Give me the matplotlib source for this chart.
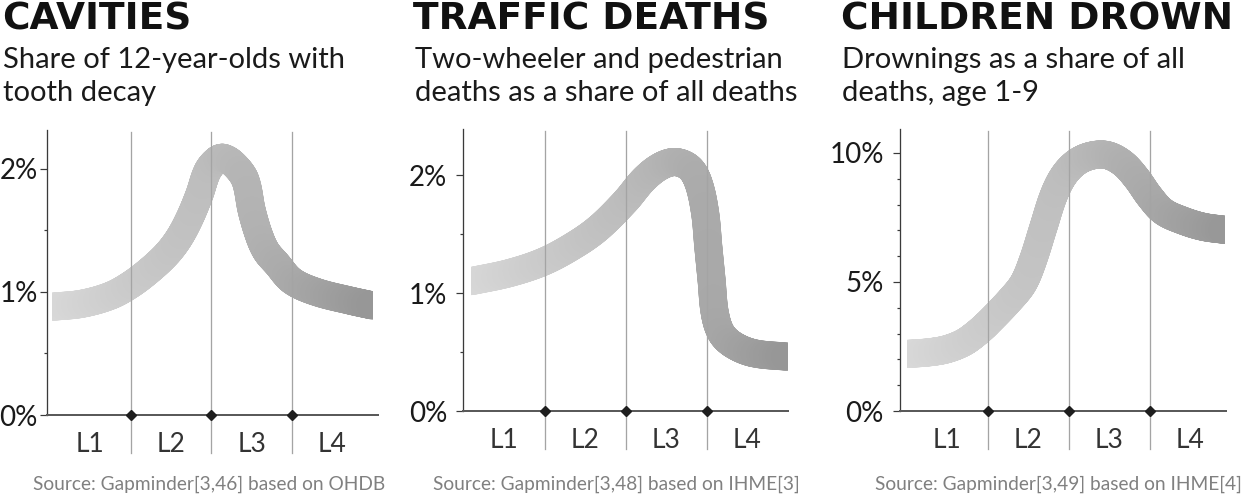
import matplotlib
matplotlib.use("Agg")
import matplotlib.pyplot as plt
import numpy as np
from matplotlib.collections import LineCollection
from matplotlib.patches import Rectangle
from matplotlib.colors import LinearSegmentedColormap
from matplotlib.bezier import BezierSegment

plt.rcParams['font.family'] = ['Lato', 'DejaVu Sans']

# ---------------- data ----------------
titles = ["CAVITIES", "TRAFFIC DEATHS", "CHILDREN DROWN"]
subtitles = [["Share of 12-year-olds with", "tooth decay"],
             ["Two-wheeler and pedestrian", "deaths as a share of all deaths"],
             ["Drownings as a share of all", "deaths, age 1-9"]]
sources = ["Source: Gapminder[3,46] based on OHDB",
           "Source: Gapminder[3,48] based on IHME[3]",
           "Source: Gapminder[3,49] based on IHME[4]"]
level_labels = ["L1", "L2", "L3", "L4"]
level_label_pos = [0.5, 1.5, 2.5, 3.5]
level_bounds = [1, 2, 3]

cavities_x = [0.03, 0.40, 0.75, 1.00, 1.24, 1.45, 1.60, 1.73, 1.85, 1.95, 2.06,
              2.15, 2.29, 2.42, 2.50, 2.59, 2.68, 2.81, 3.00, 3.30, 3.72, 4.00]
cavities_y = [0.88, 0.905, 0.97, 1.06, 1.18, 1.31, 1.44, 1.60, 1.79, 1.98, 2.07,
              2.09, 2.03, 1.91, 1.66, 1.46, 1.33, 1.23, 1.09, 1.00, 0.93, 0.89]

traffic_x = [0.09, 0.57, 1.00, 1.40, 1.68, 2.00, 2.22, 2.42, 2.61, 2.79, 2.90,
             2.98, 3.02, 3.06, 3.10, 3.18, 3.33, 3.58, 4.00]
traffic_y = [1.10, 1.17, 1.27, 1.42, 1.56, 1.78, 1.96, 2.07, 2.11, 2.06, 1.93,
             1.68, 1.39, 1.11, 0.83, 0.66, 0.56, 0.49, 0.46]

drown_x = [0.00, 0.29, 0.50, 0.70, 0.85, 1.00, 1.275, 1.44, 1.56, 1.69, 1.81,
           1.93, 2.08, 2.26, 2.47, 2.67, 2.84, 3.00, 3.17, 3.41, 3.66, 3.93]
drown_y = [2.21, 2.28, 2.40, 2.65, 2.98, 3.40, 4.30, 4.95, 5.85, 7.14, 8.31,
           9.08, 9.60, 9.88, 9.92, 9.60, 9.02, 8.31, 7.73, 7.38, 7.14, 7.02]

y_major = [[0, 1, 2], [0, 1, 2], [0, 5, 10]]
y_major_labels = [["0%", "1%", "2%"], ["0%", "1%", "2%"], ["0%", "5%", "10%"]]
y_minor = [[0.5, 1.5], [0.5, 1.5], [1, 2, 3, 4, 6, 7, 8, 9]]

series = [(cavities_x, cavities_y), (traffic_x, traffic_y), (drown_x, drown_y)]

# ---------------- layout ----------------
W, H = 1246, 496
DPI = 100
fig = plt.figure(figsize=(W / DPI, H / DPI), dpi=DPI)
fig.patch.set_facecolor("white")

boxes = [(47, 378, 415, 130), (463.3, 787.7, 411, 129), (900, 1225.7, 411, 129)]
xlims = [(-0.037, 4.064), (-0.005, 4.0), (-0.083, 3.94)]
ylims = [(0, 2.317), (0, 2.39), (0, 10.93)]
ylabel_pad = [1.5, 6.5, 6.5]
title_x = [2, 413, 841]
sub_x = [3, 415, 842]
src_x = [33, 433, 875]

band_cmap = LinearSegmentedColormap.from_list("band", ["#dadada", "#bdbdbd", "#979797"])
PX = 72.0 / DPI  # points per pixel


def ftext(x, y, s, **kw):
    return fig.text(x / W, 1 - y / H, s, **kw)


def smooth_path_points(ax, xs, ys, n_sub=30):
    """Smooth Bezier curve through the read points (built in display space)."""
    P = ax.transData.transform(np.column_stack([xs, ys]))
    n = len(P)
    T = np.zeros_like(P)
    for k in range(n):
        d = P[min(k + 1, n - 1)] - P[max(k - 1, 0)]
        T[k] = d / np.hypot(*d)
    out = [P[0]]
    t = np.linspace(0, 1, n_sub + 1)[1:]
    for k in range(n - 1):
        L = np.hypot(*(P[k + 1] - P[k]))
        ctrl = np.array([P[k], P[k] + T[k] * L / 3.0,
                         P[k + 1] - T[k + 1] * L / 3.0, P[k + 1]])
        out.extend(BezierSegment(ctrl)(t))
    return ax.transData.inverted().transform(np.array(out))


for i, ((l, r, b, t), (xs, ys)) in enumerate(zip(boxes, series)):
    ax = fig.add_axes([l / W, (H - b) / H, (r - l) / W, (b - t) / H])
    ax.set_xlim(*xlims[i])
    ax.set_ylim(*ylims[i])
    ax.set_facecolor("none")
    for s in ["top", "right"]:
        ax.spines[s].set_visible(False)
    ax.spines["left"].set_color("#3a3a3a")
    ax.spines["left"].set_linewidth(1.3 * PX)
    ax.spines["bottom"].set_color("#5a5a5a")
    ax.spines["bottom"].set_linewidth(2.0 * PX)
    ax.spines["bottom"].set_zorder(4)

    # y ticks
    ax.set_yticks(y_major[i])
    ax.set_yticklabels(y_major_labels[i])
    ax.set_yticks(y_minor[i], minor=True)
    ax.tick_params(axis="y", which="major", direction="out", length=7 * PX,
                   width=1.2 * PX, color="#3a3a3a", pad=ylabel_pad[i],
                   labelsize=20, labelcolor="#1a1a1a")
    ax.tick_params(axis="y", which="minor", direction="out", length=3.5 * PX,
                   width=1.2 * PX, color="#3a3a3a")

    # x level labels
    ax.set_xticks(level_label_pos)
    ax.set_xticklabels(level_labels)
    ax.tick_params(axis="x", which="major", length=0, pad=12.5, labelsize=19,
                   labelcolor="#333333")

    # boundary lines and diamonds
    below = 38.0 / (b - t)
    for xb in level_bounds:
        ax.axvline(xb, ymin=-below, ymax=1 - 2.0 / (b - t), color="#a4a4a4",
                   lw=1.3 * PX, clip_on=False, zorder=3)
    ax.plot(level_bounds, [0] * len(level_bounds), "D", ms=5.2, color="#1e1e1e",
            clip_on=False, zorder=6)

    # gradient band
    pts = smooth_path_points(ax, xs, ys)
    segs = np.stack([pts[:-1], pts[1:]], axis=1)
    mids = (pts[:-1, 0] + pts[1:, 0]) / 2.0
    colors = band_cmap(np.clip(mids / 4.0, 0, 1))
    lc = LineCollection(segs, colors=colors, linewidths=28 * PX,
                        capstyle="round", joinstyle="round", zorder=2)
    clip = Rectangle((xs[0], -100), xs[-1] - xs[0], 1000,
                     transform=ax.transData, facecolor="none", edgecolor="none")
    ax.add_collection(lc)
    lc.set_clip_path(clip)

    # texts
    ftext(title_x[i], 30, titles[i], fontsize=27, fontweight="bold",
          family="DejaVu Sans", color="#111111", va="baseline", ha="left")
    ftext(sub_x[i], 68, subtitles[i][0], fontsize=21, fontweight="normal",
          color="#1a1a1a", va="baseline", ha="left")
    ftext(sub_x[i], 101, subtitles[i][1], fontsize=21, fontweight="normal",
          color="#1a1a1a", va="baseline", ha="left")
    ftext(src_x[i], 490, sources[i], fontsize=13.8, fontweight="normal",
          color="#808080", va="baseline", ha="left")

fig.savefig("out.png", dpi=DPI, facecolor="white")
